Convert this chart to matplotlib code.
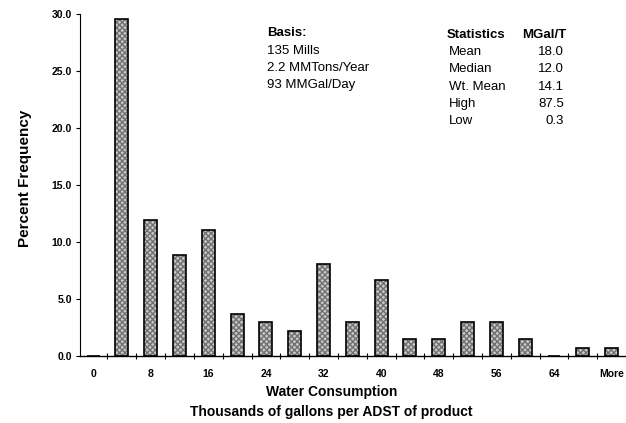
import numpy as np
import matplotlib.pyplot as plt

plt.rcParams['font.family'] = ['Liberation Sans', 'DejaVu Sans']

# Datos
categorias = ['0', '4', '8', '12', '16', '20', '24', '28', '32', '36', '40',
              '44', '48', '52', '56', '60', '64', '68', 'More']
frecuencia = [0.0, 29.6, 11.9, 8.9, 11.1, 3.7, 3.0, 2.2, 8.1, 3.0, 6.7,
              1.5, 1.5, 3.0, 3.0, 1.5, 0.0, 0.7, 0.7]
etiquetas_x = ['0', '', '8', '', '16', '', '24', '', '32', '', '40',
               '', '48', '', '56', '', '64', '', 'More']

basis = ['135 Mills', '2.2 MMTons/Year', '93 MMGal/Day']
estadisticos = ['Mean', 'Median', 'Wt. Mean', 'High', 'Low']
valores_est = ['18.0', '12.0', '14.1', '87.5', '0.3']

fig = plt.figure(figsize=(6.26, 4.23), dpi=100)
ax = fig.add_axes([0.128, 0.158, 0.872, 0.809])

x = np.arange(len(categorias))
ax.bar(x, frecuencia, width=0.45, color='#c8c8c8', hatch='xxxxxx',
       edgecolor='#707070', linewidth=0)
ax.bar(x, frecuencia, width=0.45, fill=False, edgecolor='black', linewidth=1.2)

ax.set_xlim(-0.45, 18.5)
ax.set_ylim(0, 30)
ax.set_yticks(np.arange(0, 31, 5))
ax.set_yticklabels([f'{v:.1f}' for v in np.arange(0, 31, 5)],
                   fontsize=7.5, fontweight='bold')
ax.set_xticks(x)
ax.set_xticklabels(etiquetas_x, fontsize=7.5, fontweight='bold')
ax.tick_params(axis='x', length=0, pad=9)
ax.set_xticks(x[:-1] + 0.5, minor=True)
ax.tick_params(axis='x', which='minor', direction='inout', length=5, width=0.8)
ax.tick_params(axis='y', direction='out', length=3, width=0.8, pad=3)

for s in ['top', 'right']:
    ax.spines[s].set_visible(False)
ax.spines['left'].set_linewidth(0.8)
ax.spines['bottom'].set_linewidth(1.0)

ax.set_ylabel('Percent Frequency', fontsize=11, fontweight='bold')
ax.yaxis.set_label_coords(-0.088, 0.52)
ax.set_xlabel('Water Consumption\nThousands of gallons per ADST of product',
              fontsize=10, fontweight='bold', linespacing=1.5)
ax.xaxis.set_label_coords(0.46, -0.085)
ax.xaxis.label.set_va('top')

# Cuadro "Basis"
fig.text(267 / 626, 1 - 33 / 423, 'Basis:', fontsize=9.5, fontweight='bold', va='center')
for i, t in enumerate(basis):
    fig.text(267 / 626, 1 - (51 + 17 * i) / 423, t, fontsize=9.5, va='center')

# Cuadro de estadísticas
fig.text(447 / 626, 1 - 35 / 423, 'Statistics', fontsize=9.5, fontweight='bold', va='center')
fig.text(566 / 626, 1 - 35 / 423, 'MGal/T', fontsize=9.5, fontweight='bold',
         va='center', ha='right')
for i, (n, v) in enumerate(zip(estadisticos, valores_est)):
    y = 1 - (52 + 17.3 * i) / 423
    fig.text(449 / 626, y, n, fontsize=9.5, va='center')
    fig.text(564 / 626, y, v, fontsize=9.5, va='center', ha='right')

plt.savefig('out.png', dpi=100)
